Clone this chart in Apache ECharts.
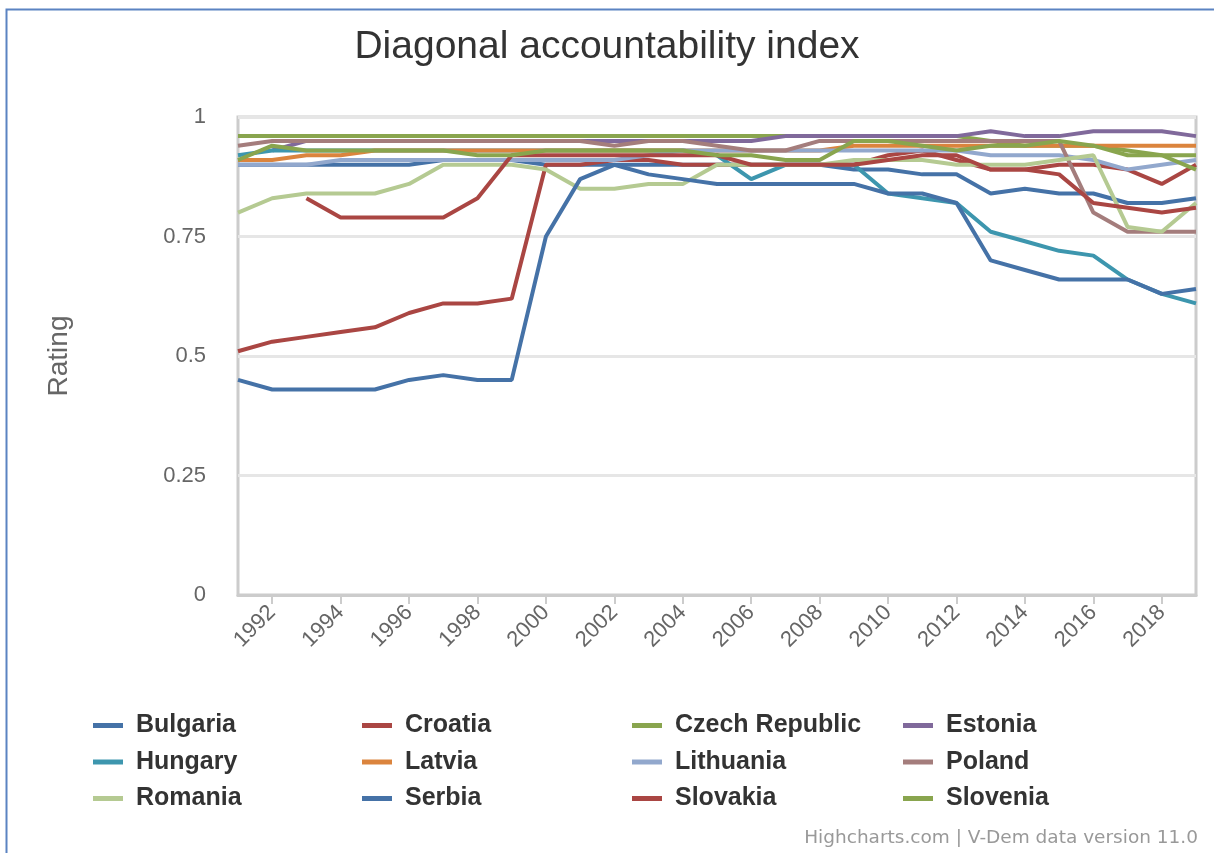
<!DOCTYPE html>
<html>
<head>
<meta charset="utf-8">
<style>html,body{margin:0;padding:0;background:#fff}#c{width:1214px;height:853px}</style>
<script src="https://cdn.jsdelivr.net/npm/echarts@6/dist/echarts.min.js"></script>
</head>
<body>
<div id="c"></div>
<script>
var years = ['1991','1992','1993','1994','1995','1996','1997','1998','1999','2000','2001','2002','2003','2004','2005','2006','2007','2008','2009','2010','2011','2012','2013','2014','2015','2016','2017','2018','2019'];
var yTicks = [0, 0.25, 0.5, 0.75, 1];
var countries = ['Bulgaria','Croatia','Czech Republic','Estonia','Hungary','Latvia','Lithuania','Poland','Romania','Serbia','Slovakia','Slovenia'];
var colors = ['#4572A7','#AA4643','#89A54E','#80699B','#3D96AE','#DB843D','#92A8CD','#A47D7C','#B5CA92','#4572A7','#AA4643','#89A54E'];

var bulgaria  = [0.90,0.90,0.90,0.90,0.90,0.90,0.91,0.91,0.91,0.90,0.90,0.90,0.90,0.90,0.90,0.90,0.90,0.90,0.89,0.89,0.88,0.88,0.84,0.85,0.84,0.84,0.82,0.82,0.83];
var croatia   = [0.51,0.53,0.54,0.55,0.56,0.59,0.61,0.61,0.62,0.90,0.90,0.91,0.91,0.90,0.90,0.90,0.90,0.90,0.90,0.92,0.93,0.91,0.89,0.89,0.90,0.90,0.89,0.86,0.90];
var czech     = [0.96,0.96,0.96,0.96,0.96,0.96,0.96,0.96,0.96,0.96,0.96,0.96,0.96,0.96,0.96,0.96,0.96,0.96,0.96,0.96,0.96,0.96,0.95,0.94,0.94,0.94,0.93,0.92,0.92];
var estonia   = [null,0.93,0.95,0.95,0.95,0.95,0.95,0.95,0.95,0.95,0.95,0.95,0.95,0.95,0.95,0.95,0.96,0.96,0.96,0.96,0.96,0.96,0.97,0.96,0.96,0.97,0.97,0.97,0.96];
var hungary   = [0.92,0.93,0.93,0.93,0.93,0.93,0.93,0.93,0.93,0.93,0.93,0.93,0.93,0.93,0.92,0.87,0.90,0.90,0.90,0.84,0.83,0.82,0.76,0.74,0.72,0.71,0.66,0.63,0.61];
var latvia    = [0.91,0.91,0.92,0.92,0.93,0.93,0.93,0.93,0.93,0.93,0.93,0.93,0.93,0.93,0.93,0.93,0.93,0.93,0.94,0.94,0.94,0.94,0.94,0.94,0.94,0.94,0.94,0.94,0.94];
var lithuania = [0.90,0.90,0.90,0.91,0.91,0.91,0.91,0.91,0.91,0.91,0.91,0.91,0.92,0.93,0.93,0.93,0.93,0.93,0.93,0.93,0.93,0.93,0.92,0.92,0.92,0.91,0.89,0.90,0.91];
var poland    = [0.94,0.95,0.95,0.95,0.95,0.95,0.95,0.95,0.95,0.95,0.95,0.94,0.95,0.95,0.94,0.93,0.93,0.95,0.95,0.95,0.95,0.95,0.95,0.95,0.95,0.80,0.76,0.76,0.76];
var romania   = [0.80,0.83,0.84,0.84,0.84,0.86,0.90,0.90,0.90,0.89,0.85,0.85,0.86,0.86,0.90,0.90,0.90,0.90,0.91,0.91,0.91,0.90,0.90,0.90,0.91,0.92,0.77,0.76,0.82];
var serbia    = [0.45,0.43,0.43,0.43,0.43,0.45,0.46,0.45,0.45,0.75,0.87,0.90,0.88,0.87,0.86,0.86,0.86,0.86,0.86,0.84,0.84,0.82,0.70,0.68,0.66,0.66,0.66,0.63,0.64];
var slovakia  = [null,null,0.83,0.79,0.79,0.79,0.79,0.83,0.92,0.92,0.92,0.92,0.92,0.92,0.92,0.90,0.90,0.90,0.90,0.91,0.92,0.92,0.89,0.89,0.88,0.82,0.81,0.80,0.81];
var slovenia  = [0.91,0.94,0.93,0.93,0.93,0.93,0.93,0.92,0.92,0.93,0.93,0.93,0.93,0.93,0.92,0.92,0.91,0.91,0.95,0.95,0.94,0.93,0.94,0.94,0.95,0.94,0.92,0.92,0.89];

var values = [bulgaria, croatia, czech, estonia, hungary, latvia, lithuania, poland, romania, serbia, slovakia, slovenia];

var series = countries.map(function (name, i) {
  return {
    name: name, type: 'line', data: values[i], color: colors[i],
    symbol: 'none', showSymbol: false, smooth: false, connectNulls: false,
    lineStyle: { width: 4, color: colors[i] },
    emphasis: { disabled: true }, z: 2 + i
  };
});

function legendCol(names, left) {
  return {
    orient: 'vertical', left: left, top: 712, padding: 0, data: names,
    icon: 'rect', itemWidth: 30, itemHeight: 5, itemGap: 9.5,
    textStyle: { fontFamily: 'Liberation Sans', fontWeight: 'bold', fontSize: 25, color: '#333', lineHeight: 27, padding: [0, 0, 0, 8] },
    selectedMode: false
  };
}

var chart = echarts.init(document.getElementById('c'), null, { renderer: 'canvas' });
chart.setOption({
  animation: false,
  backgroundColor: '#fff',
  title: {
    text: 'Diagonal accountability index', left: 'center', top: 23,
    textStyle: { fontFamily: 'Liberation Sans', fontWeight: 'normal', fontSize: 39, color: '#333' }
  },
  grid: { left: 238, right: 18, top: 117, bottom: 258, show: true, borderColor: '#cccccc', borderWidth: 3, backgroundColor: 'transparent' },
  legend: [
    legendCol(['Bulgaria', 'Hungary', 'Romania'], 93),
    legendCol(['Croatia', 'Latvia', 'Serbia'], 362),
    legendCol(['Czech Republic', 'Lithuania', 'Slovakia'], 632),
    legendCol(['Estonia', 'Poland', 'Slovenia'], 903)
  ],
  xAxis: {
    type: 'category', data: years, boundaryGap: false,
    axisLine: { show: true, lineStyle: { color: '#cccccc', width: 3 } },
    axisTick: { show: true, length: 9, lineStyle: { color: '#cccccc', width: 2 }, interval: function (idx) { return idx % 2 === 1; } },
    axisLabel: {
      interval: function (idx) { return idx % 2 === 1; },
      rotate: 45, margin: 14,
      fontFamily: 'Liberation Sans', fontSize: 22, color: '#666'
    },
    splitLine: { show: false }
  },
  yAxis: {
    type: 'value', min: yTicks[0], max: yTicks[yTicks.length - 1], interval: 0.25,
    name: 'Rating', nameLocation: 'middle', nameGap: 165, nameRotate: 90,
    nameTextStyle: { fontFamily: 'Liberation Sans', fontSize: 28, color: '#666' },
    axisLine: { show: false }, axisTick: { show: false },
    axisLabel: {
      margin: 32, fontFamily: 'Liberation Sans', fontSize: 22, color: '#666',
      formatter: function (v) { return yTicks.indexOf(v) >= 0 ? String(v) : ''; }
    },
    splitLine: { show: true, lineStyle: { color: '#e6e6e6', width: 3 } }
  },
  graphic: [
    { type: 'rect', left: 4, top: 7, shape: { width: 1240, height: 880 }, style: { fill: 'none', stroke: '#5b83c2', lineWidth: 2 }, z: 100, silent: true },
    { type: 'text', right: 16, top: 829, style: { text: 'Highcharts.com | V-Dem data version 11.0', font: '18.5px "DejaVu Sans"', fill: '#999' }, z: 100, silent: true }
  ],
  series: series
});
</script>
</body>
</html>
